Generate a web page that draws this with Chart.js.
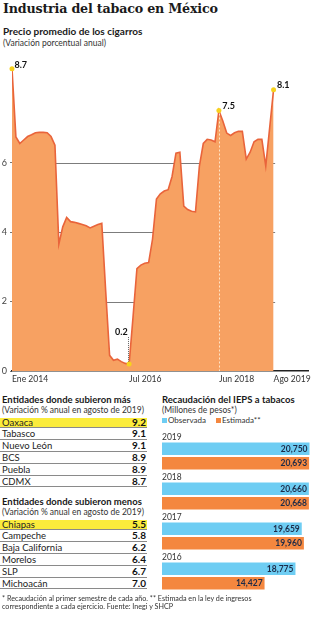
<!DOCTYPE html>
<html><head><meta charset="utf-8">
<script src="https://cdn.jsdelivr.net/npm/chart.js@4.4.1/dist/chart.umd.min.js"></script>
<style>
html,body{margin:0;padding:0;background:#fff}
body{width:311px;height:620px;position:relative;overflow:hidden;font-family:Lato,"Open Sans",sans-serif;color:#222}
.t{position:absolute;white-space:nowrap;line-height:1}
.title{left:3px;top:3px;font-family:"DejaVu Serif",serif;font-weight:bold;font-size:12.7px;color:#1a1a1a;letter-spacing:-0.2px}
.h{font-weight:bold;font-size:9.5px;color:#1a1a1a}
.s{font-size:8.5px;color:#333}
.row{position:absolute;left:0;width:147px;height:11.8px;line-height:11.8px;font-size:9.5px;color:#222}
.row .hl{position:absolute;left:0;right:0;top:1.4px;bottom:0.6px;background:#fbec3c}
.row .sep{position:absolute;left:0;right:0;bottom:0;height:1px;background:#8a8a8a}
.row .n{position:absolute;left:2px;top:0}
.row .v{position:absolute;right:1px;top:0;font-weight:bold;font-size:10px;color:#111}
.sq{position:absolute;width:5px;height:5px}
.fn{font-size:7.2px;color:#333}
canvas{position:absolute}
</style></head><body>
<div class="t title">Industria del tabaco en México</div>
<div class="t h" style="left:3px;top:25.6px;font-size:10px">Precio promedio de los cigarros</div>
<div class="t s" style="left:3px;top:39px">(Variación porcentual anual)</div>

<canvas id="price" width="311" height="340" style="left:0;top:50px"></canvas>

<div class="t h" style="left:2px;top:395px">Entidades donde subieron más</div>
<div class="t s" style="left:2px;top:405.6px">(Variación % anual en agosto de 2019)</div>
<div id="tab1"></div>
<div class="t h" style="left:2px;top:496.6px">Entidades donde subieron menos</div>
<div class="t s" style="left:2px;top:507.5px">(Variación % anual en agosto de 2019)</div>
<div id="tab2"></div>

<div class="t h" style="left:162px;top:395px">Recaudación del IEPS a tabacos</div>
<div class="t s" style="left:162px;top:405.6px">(Millones de pesos*)</div>
<div class="sq" style="left:162px;top:417.5px;background:#6ecdf3"></div>
<div class="t s" style="left:168px;top:415.8px;font-size:8px">Observada</div>
<div class="sq" style="left:216px;top:417.5px;background:#f4873f"></div>
<div class="t s" style="left:222px;top:415.8px;font-size:8px">Estimada**</div>
<canvas id="ieps" width="156" height="170" style="left:155px;top:426px"></canvas>

<div class="t fn" style="left:2px;top:595.2px">* Recaudación al primer semestre de cada año. ** Estimada en la ley de ingresos</div>
<div class="t fn" style="left:2px;top:603.2px">correspondiente a cada ejercicio. Fuente: Inegi y SHCP</div>

<script>
// ---------- DATA ----------
const priceValues = [
  8.7, 6.74, 6.55, 6.65, 6.75, 6.8, 6.86, 6.87, 6.87, 6.86, 6.75, 6.5,
  3.65, 4.15, 4.42, 4.3, 4.28, 4.25, 4.22, 4.18, 4.12, 4.17, 4.22, 4.25,
  2.3, 0.45, 0.31, 0.34, 0.27, 0.22, 0.2, 1.55, 2.95, 3.05, 3.1, 3.12,
  3.8, 4.95, 5.1, 5.18, 5.22, 5.6, 6.27, 6.3, 4.75, 4.65, 4.6, 4.58,
  5.9, 6.55, 6.67, 6.65, 6.6, 7.5, 7.2, 6.85, 6.78, 6.86, 6.9, 6.9,
  6.1, 6.3, 6.6, 6.67, 6.67, 5.9, 7.0, 8.1
];
const xTickIndex = [0, 30, 53, 67];
const xTickLabels = ['Ene 2014', 'Jul 2016', 'Jun 2018', 'Ago 2019'];
const yTickValues = [0, 2, 4, 6];
const markedIndex = [0, 30, 53, 67];
const markedLabels = ['8.7', '0.2', '7.5', '8.1'];

const topStates = ['Oaxaca', 'Tabasco', 'Nuevo León', 'BCS', 'Puebla', 'CDMX'];
const topValues = ['9.2', '9.1', '9.1', '8.9', '8.9', '8.7'];
const lowStates = ['Chiapas', 'Campeche', 'Baja California', 'Morelos', 'SLP', 'Michoacán'];
const lowValues = ['5.5', '5.8', '6.2', '6.4', '6.7', '7.0'];

const iepsYears = ['2019', '2018', '2017', '2016'];
const iepsObservada = [20750, 20660, 19659, 18775];
const iepsEstimada = [20693, 20668, 19960, 14427];

// ---------- TABLES ----------
function buildTable(el, names, vals, top) {
  const step = 11.8;
  let html = '';
  names.forEach((n, i) => {
    html += '<div class="row" style="top:' + (top + i * step) + 'px">' +
      (i === 0 ? '<div class="hl"></div>' : '') +
      '<div class="sep"></div><span class="n">' + n + '</span><span class="v">' + vals[i] + '</span></div>';
  });
  document.getElementById(el).innerHTML = html;
}
buildTable('tab1', topStates, topValues, 416.6);
buildTable('tab2', lowStates, lowValues, 518.6);

// ---------- PRICE CHART ----------
const labelOffsets = {0: [2.5, -4, 'left'], 30: [-1.5, -31.5, 'right'], 53: [3.4, -4.5, 'left'], 67: [3.4, -4.7, 'left']};

const pricePlugin = {
  id: 'pricePlugin',
  beforeDatasetsDraw(chart) {
    const {ctx, chartArea, scales: {x, y}} = chart;
    ctx.save();
    ctx.strokeStyle = '#7c7c7c';
    ctx.lineWidth = 1;
    [2, 4, 6].forEach(v => {
      const py = Math.round(y.getPixelForValue(v)) + 0.5;
      ctx.beginPath();
      ctx.moveTo(chartArea.left, py);
      ctx.lineTo(x.getPixelForValue(67.4), py);
      ctx.stroke();
    });
    ctx.restore();
  },
  afterDatasetsDraw(chart) {
    const {ctx, scales: {x, y}} = chart;
    ctx.save();
    // Jun 2018 reference line
    const jx = Math.round(x.getPixelForValue(53)) + 0.5;
    ctx.strokeStyle = 'rgba(255,235,210,0.9)';
    ctx.setLineDash([2, 2]);
    ctx.lineWidth = 1;
    ctx.beginPath();
    ctx.moveTo(jx, y.getPixelForValue(priceValues[53]) + 3);
    ctx.lineTo(jx, y.getPixelForValue(0));
    ctx.stroke();
    // 0.2 leader
    const lx = Math.round(x.getPixelForValue(30)) - 0.5;
    ctx.strokeStyle = '#666';
    ctx.setLineDash([1, 1]);
    ctx.beginPath();
    ctx.moveTo(lx, y.getPixelForValue(priceValues[30]) - 27);
    ctx.lineTo(lx, y.getPixelForValue(priceValues[30]) - 2);
    ctx.stroke();
    ctx.setLineDash([]);
    // points
    markedIndex.forEach((i, k) => {
      const px = x.getPixelForValue(i), py = y.getPixelForValue(priceValues[i]);
      ctx.fillStyle = '#f7d21e';
      ctx.beginPath(); ctx.arc(px, py, 2.5, 0, Math.PI * 2); ctx.fill();
      const o = labelOffsets[i];
      ctx.fillStyle = '#111';
      ctx.font = 'bold 9px Lato, sans-serif';
      ctx.textAlign = o[2];
      ctx.textBaseline = 'middle';
      ctx.fillText(markedLabels[k], px + o[0], py + o[1]);
    });
    ctx.restore();
  }
};

new Chart(document.getElementById('price'), {
  type: 'line',
  data: {
    datasets: [{
      data: priceValues.map((v, i) => ({x: i, y: v})),
      borderColor: '#e9643b',
      borderWidth: 1.6,
      backgroundColor: '#f7a162',
      fill: 'origin',
      pointRadius: 0,
      tension: 0
    }]
  },
  options: {
    responsive: false,
    animation: false,
    devicePixelRatio: 1,
    layout: {padding: {top: 6, right: 3, left: 0, bottom: 0}},
    plugins: {legend: {display: false}, tooltip: {enabled: false}},
    scales: {
      x: {
        type: 'linear', min: 0, max: 75.82,
        grid: {display: false, drawTicks: false},
        border: {display: true, color: '#222', width: 1.5},
        afterBuildTicks: s => { s.ticks = xTickIndex.map(v => ({value: v})); },
        afterFit: s => { s.height = 19; s.paddingLeft = 0; s.paddingRight = 0; },
        ticks: {
          align: 'start', padding: 3, maxRotation: 0, autoSkip: false,
          color: '#333', font: {family: 'Lato', size: 8.6},
          callback: v => xTickLabels[xTickIndex.indexOf(v)]
        }
      },
      y: {
        min: 0, max: 9,
        grid: {display: true, drawOnChartArea: false, drawTicks: true, tickLength: 2, color: '#777'},
        border: {display: false},
        afterBuildTicks: s => { s.ticks = yTickValues.map(v => ({value: v})); },
        afterFit: s => { s.width = 12; },
        ticks: {padding: 3, color: '#444', font: {family: 'Lato', size: 9}, callback: v => String(v)}
      }
    }
  },
  plugins: [pricePlugin]
});

// ---------- IEPS BAR CHART ----------
const iepsPlugin = {
  id: 'iepsPlugin',
  afterDatasetsDraw(chart) {
    const {ctx, chartArea} = chart;
    ctx.save();
    const m0 = chart.getDatasetMeta(0);
    ctx.font = '8.5px Lato, sans-serif';
    ctx.fillStyle = '#333';
    ctx.textAlign = 'left';
    ctx.textBaseline = 'middle';
    m0.data.forEach((b, i) => {
      ctx.fillText(iepsYears[i], chartArea.left, b.y - b.height / 2 - 5.5);
    });
    ctx.font = 'bold 8.5px Lato, sans-serif';
    ctx.fillStyle = '#1c2b48';
    ctx.textAlign = 'right';
    chart.data.datasets.forEach((ds, d) => {
      chart.getDatasetMeta(d).data.forEach((b, i) => {
        ctx.fillText(ds.data[i].toLocaleString('en-US'), b.x - 2, b.y + 0.5);
      });
    });
    ctx.restore();
  }
};

new Chart(document.getElementById('ieps'), {
  type: 'bar',
  data: {
    labels: iepsYears,
    datasets: [
      {label: 'Observada', data: iepsObservada, backgroundColor: '#6ecdf3'},
      {label: 'Estimada', data: iepsEstimada, backgroundColor: '#f4873f'}
    ]
  },
  options: {
    indexAxis: 'y',
    responsive: false,
    animation: false,
    devicePixelRatio: 1,
    layout: {padding: {top: 10, left: 7, right: 0, bottom: 0}},
    categoryPercentage: 0.725,
    barPercentage: 0.86,
    plugins: {legend: {display: false}, tooltip: {enabled: false}},
    scales: {
      x: {display: false, min: 0, max: 20960},
      y: {display: false}
    }
  },
  plugins: [iepsPlugin]
});
</script>
</body></html>
